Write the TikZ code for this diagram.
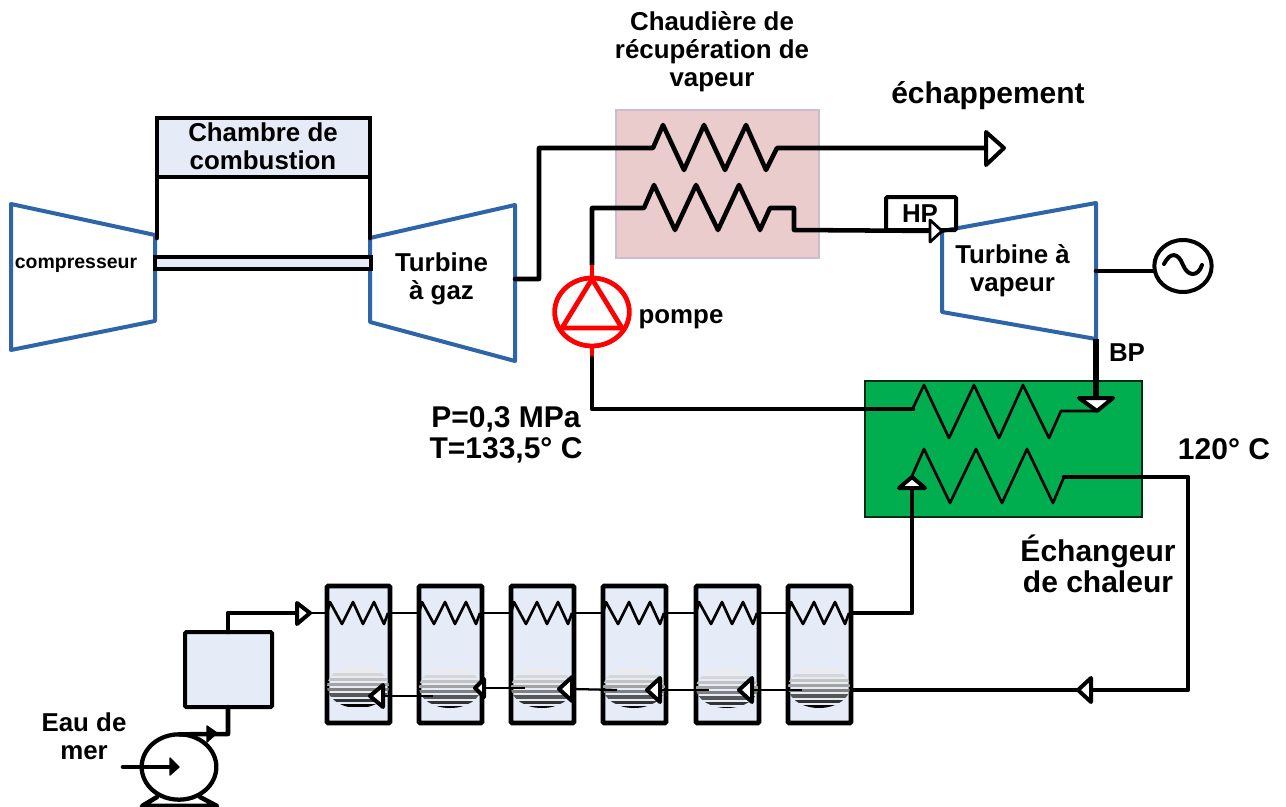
\documentclass[tikz,border=0pt]{standalone}
\usepackage{fontspec}
\setmainfont{Liberation Sans}
\usetikzlibrary{shapes.geometric}
\definecolor{tblue}{HTML}{2E64A8}
\definecolor{pale}{HTML}{E6ECF7}
\definecolor{rose}{HTML}{EBCCCC}
\definecolor{roseline}{HTML}{C9BDD2}
\definecolor{xgreen}{HTML}{00AE50}
\newcommand{\pxbox}[6]{\node[#6,anchor=north west,minimum width={(#4-#2)*0.75pt},minimum height={(#5-#3)*0.75pt}] (#1) at (#2,#3) {};}
\tikzset{
  x=0.75pt,y=-0.75pt,
  every node/.style={inner sep=0pt,outer sep=0pt},
  turb/.style={draw=tblue,line width=3pt,line join=round},
  pipe/.style={draw=black,line width=3.4pt,line join=round,line cap=round},
  pipeB/.style={draw=black,line width=4pt,line join=round},
  thinpipe/.style={draw=black,line width=1.7pt,line join=round},
  coil/.style={draw=black,line width=2pt,line join=round},
  redline/.style={draw=red,line width=3.6pt,line join=round},
  head/.style={draw=black,fill=white,line width=3pt,line join=round},
  headS/.style={draw=black,fill=white,line width=2.1pt,line join=round},
  headK/.style={draw=black,fill=black,line width=1pt,line join=round},
  unitbox/.style={draw=black,fill=pale,line width=3.6pt,rounded corners=1pt},
  txtS/.style={font=\fontsize{14.6}{17}\selectfont\bfseries,align=center},
  txtM/.style={font=\fontsize{19.4}{21}\selectfont\bfseries,align=center},
  txtL/.style={font=\fontsize{22.5}{23.5}\selectfont\bfseries,align=center},
}
\begin{document}
\begin{tikzpicture}
\path[use as bounding box] (0,0) rectangle (1286,807);

% gas turbine group
\draw[turb] (11,204) -- (155,235) -- (155,321) -- (11,350) -- cycle;
\draw[turb] (370,238) -- (515,205) -- (515,361) -- (370,322) -- cycle;
\pxbox{chamber}{157}{118}{370}{177}{draw=black,fill=pale,line width=3pt}
\pxbox{shaft}{155}{257}{371}{269}{draw=black,fill=pale,line width=3pt}
\coordinate (legL) at (157,238);
\coordinate (legR) at (370,238);
\draw[pipe] (chamber.south west) -- (legL);
\draw[pipe] (chamber.south east) -- (legR);

% recovery boiler
\pxbox{hrsg}{616}{110}{819}{258}{draw=roseline,fill=rose,line width=0.9pt}
\coordinate (gasout) at (515,279);
\coordinate (exhaust) at (986,148);
\draw[pipe] (gasout) -- (539,279) -- (539,148) -- (653,148) -- (663,125) -- (684,170) -- (704,125) -- (725,170) -- (746,125) -- (766,170) -- (777,148) -- (exhaust);
\draw[head] (986,132) -- (1004,148) -- (986,165) -- cycle;

% steam turbine
\draw[turb] (942,231) -- (1096,203) -- (1096,339) -- (942,312) -- cycle;
\pxbox{hp}{886}{197}{956}{230}{draw=black,line width=3pt,rounded corners=1pt}
\coordinate (hpin) at (942,231);
\draw[pipe] (592,265) -- (592,208) -- (644,208) -- (654,185) -- (675,230) -- (696,185) -- (718,230) -- (739,185) -- (760,230) -- (770,208) -- (794,208) -- (794,230) -- (hpin);
\draw[headS] (930,220) -- (942,231) -- (930,242) -- cycle;

% generator
\node[ellipse,draw=black,line width=3pt,minimum width=43pt,minimum height=39pt] (genr) at (1183,266) {};
\coordinate (genshaft) at (1096,271);
\draw[pipe] (genshaft) -- (1154,271);
\draw[black,line width=3pt,line cap=round] (1164,264) .. controls (1170,252) and (1178,252) .. (1183,265) .. controls (1188,277) and (1198,277) .. (1202,265);

% red pump
\node[ellipse,draw=red,line width=3.6pt,minimum width=56pt,minimum height=51pt] (rpump) at (592,312) {};
\draw[redline] (592,279) -- (622,328) -- (562,328) -- cycle;
\draw[redline] (592,265) -- (592,279);
\draw[redline] (592,346) -- (592,358);

% heat exchanger
\pxbox{exch}{865}{381}{1142}{517}{draw=black!75!xgreen,fill=xgreen,line width=2pt}
\draw[pipe] (592,358) -- (592,409) -- (913,409);
\draw[coil] (912,410) -- (924,385) -- (949,438) -- (974,385) -- (999,438) -- (1023,385) -- (1049,438) -- (1061,411) -- (1097,411);
\coordinate (bp) at (1096,339);
\draw[pipeB] (bp) -- (1096,397);
\draw[head] (1079,398) -- (1113,398) -- (1097,411) -- cycle;
\draw[coil] (912,476) -- (924,449) -- (950,503) -- (976,449) -- (1002,503) -- (1027,449) -- (1053,503) -- (1064,477);
\draw[pipe] (1064,477) -- (1188,477) -- (1188,690) -- (851,690);
\draw[head] (1091,678) -- (1078,690) -- (1091,702) -- cycle;

% evaporator stages
\foreach \i/\L/\T in {1/327/665,2/419/667,3/511/667,4/603/667,5/696/668,6/788/666}{
  \pxbox{unit\i}{\L}{586}{\L+63}{723}{unitbox}
  \begin{scope}
    \clip ({\L+31},{(\T+708)/2}) ellipse [x radius=31,y radius={(708-\T)/2}];
    \foreach \k/\c in {0/8,1/16,2/24,3/36,4/50,5/66,6/80,7/100}{
      \draw[black!\c,line width=2.3pt] (\L-2,{\T+4+\k*5.2}) -- (\L+65,{\T+4+\k*5.2});
    }
  \end{scope}
  \draw[coil] (\L,613) -- (\L+3,602) -- (\L+15,624) -- (\L+26,602) -- (\L+36,624) -- (\L+47,602) -- (\L+57,624) -- (\L+61,613);
}
\coordinate (inlet) at (327,613);
\draw[thinpipe] (unit1.east |- inlet) -- (unit2.west |- inlet);
\draw[thinpipe] (unit2.east |- inlet) -- (unit3.west |- inlet);
\draw[thinpipe] (unit3.east |- inlet) -- (unit4.west |- inlet);
\draw[thinpipe] (unit4.east |- inlet) -- (unit5.west |- inlet);
\draw[thinpipe] (unit5.east |- inlet) -- (unit6.west |- inlet);
\draw[pipe] (unit6.east |- inlet) -- (912,613) -- (912,490);
\draw[head] (899,488) -- (925,488) -- (912,477) -- cycle;

% brine line
\draw[thinpipe] (802,690) -- (752,690);
\draw[head] (752,678) -- (739,690) -- (752,702) -- cycle;
\draw[thinpipe] (709,690) -- (660,690);
\draw[head] (660,678) -- (647,690) -- (660,702) -- cycle;
\draw[thinpipe] (617,690) -- (572,689);
\draw[head] (572,677) -- (559,689) -- (572,701) -- cycle;
\draw[thinpipe] (525,688) -- (484,688);
\draw[head] (484,679) -- (475,688) -- (484,697) -- cycle;
\draw[thinpipe] (433,696) -- (383,696);
\draw[head] (383,685) -- (370,696) -- (383,707) -- cycle;

% sea water intake
\pxbox{feedbox}{185}{632}{272}{707}{draw=black,fill=pale,line width=3pt,rounded corners=1pt}
\coordinate (feedin) at (296,613);
\draw[pipe] (228,632) -- (228,613) -- (feedin);
\draw[thinpipe] (feedin) -- (inlet);
\draw[head] (297,603) -- (310,613) -- (297,624) -- cycle;
\node[ellipse,draw=black,line width=3.2pt,minimum width=56pt,minimum height=49pt] (seapump) at (179,767) {};
\draw[pipe] (228,707) -- (228,734) -- (seapump.north);
\draw[headK] (207,726) -- (217,733) -- (207,742) -- cycle;
\coordinate (seain) at (123,767);
\draw[pipe] (seain) -- (170,767);
\draw[headK] (170,758) -- (179,767) -- (170,775) -- cycle;
\draw[pipe] (157,797) -- (142,806) -- (217,806) -- (200,797);

% labels
\node[txtM] (t1) at (712,52) {Chaudière de\\récupération de\\vapeur};
\node[txtL] (t2) at (988,96) {échappement};
\node[txtM] (t3) at (263,146) {Chambre de\\combustion};
\node[txtS] (t4) at (76,265) {compresseur};
\node[txtM] (t5) at (441.5,279) {Turbine\\à gaz};
\node[txtM] (t6) at (1012.5,271) {Turbine à\\vapeur};
\node[txtM] (t7) at (920,214) {HP};
\node[txtM] (t8) at (1127,353) {BP};
\node[txtM] (t9) at (681,319) {pompe};
\node[txtL] (t10) at (506,435) {P=0,3 MPa\\T=133,5° C};
\node[txtL] (t11) at (1224,449) {120° C};
\node[txtL] (t12) at (1098,564) {Échangeur\\de chaleur};
\node[txtM] (t13) at (84,736) {Eau de\\mer};
\end{tikzpicture}
\end{document}
